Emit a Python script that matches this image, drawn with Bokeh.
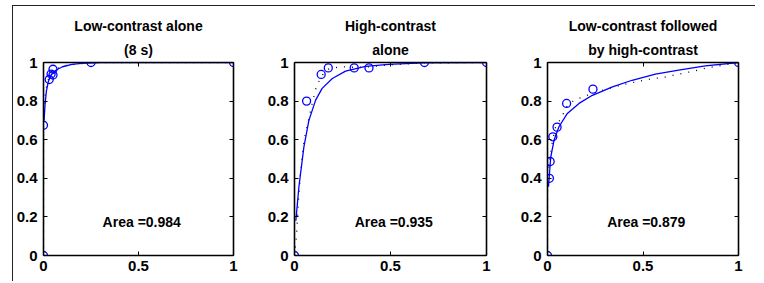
from bokeh.plotting import figure
from bokeh.layouts import row
from bokeh.models import LinearAxis, FixedTicker, Title
from bokeh.core.properties import value
from bokeh.embed import file_html
from bokeh.resources import INLINE

# ---------------- data ----------------
title_line1 = ["Low-contrast alone", "High-contrast", "Low-contrast followed"]
title_line2 = ["(8 s)", "alone", "by high-contrast"]
area_labels = ["Area =0.984", "Area =0.935", "Area =0.879"]

x_ticks = [0, 0.5, 1]
x_tick_labels = ["0", "0.5", "1"]
y_ticks = [0, 0.2, 0.4, 0.6, 0.8, 1]
y_tick_labels = ["0", "0.2", "0.4", "0.6", "0.8", "1"]

# panel 1: low-contrast alone
pts1_x = [0, 0, 0.03, 0.04, 0.05, 0.05, 0.25, 1.0]
pts1_y = [0, 0.675, 0.912, 0.94, 0.935, 0.965, 1.0, 1.0]
fit1_x = [0.003, 0.008, 0.015, 0.025, 0.04, 0.065, 0.1, 0.15, 0.2, 0.3, 1.0]
fit1_y = [0.70, 0.78, 0.85, 0.90, 0.935, 0.96, 0.978, 0.99, 0.996, 1.0, 1.0]
dot1_x = [0, 0, 0.01, 0.03, 0.06, 0.12, 0.25, 1.0]
dot1_y = [0, 0.675, 0.85, 0.93, 0.965, 0.985, 1.0, 1.0]

# panel 2: high-contrast alone
pts2_x = [0, 0.063, 0.139, 0.176, 0.311, 0.388, 0.677, 1.0]
pts2_y = [0, 0.80, 0.938, 0.972, 0.972, 0.972, 1.0, 1.0]
fit2_x = [0.007, 0.023, 0.049, 0.075, 0.11, 0.144, 0.197, 0.266, 0.37, 0.49, 0.67, 1.0]
fit2_y = [0.18, 0.356, 0.563, 0.70, 0.805, 0.866, 0.917, 0.955, 0.98, 0.99, 0.998, 1.0]
dot2_x = [0, 0.01, 0.02, 0.031, 0.05, 0.075, 0.09, 0.113, 0.14, 0.176, 0.24, 0.311, 0.388, 0.5, 0.677, 1.0]
dot2_y = [0, 0.10, 0.28, 0.42, 0.60, 0.71, 0.78, 0.872, 0.93, 0.965, 0.978, 0.975, 0.978, 0.988, 0.998, 1.0]

# panel 3: low-contrast followed by high-contrast
pts3_x = [0, 0.010, 0.014, 0.028, 0.05, 0.10, 0.238, 1.0]
pts3_y = [0, 0.40, 0.487, 0.615, 0.665, 0.788, 0.862, 1.0]
fit3_x = [0.005, 0.017, 0.035, 0.06, 0.104, 0.165, 0.235, 0.34, 0.443, 0.565, 0.687, 0.826, 1.0]
fit3_y = [0.356, 0.51, 0.60, 0.667, 0.736, 0.788, 0.83, 0.874, 0.908, 0.94, 0.96, 0.983, 1.0]
dot3_x = [0, 0, 0.01, 0.02, 0.04, 0.075, 0.1, 0.139, 0.2, 0.3, 0.417, 0.54, 0.6, 0.704, 0.774, 0.835, 1.0]
dot3_y = [0, 0.40, 0.48, 0.56, 0.66, 0.718, 0.77, 0.805, 0.827, 0.86, 0.89, 0.915, 0.922, 0.943, 0.957, 0.972, 1.0]

panels = [
    (pts1_x, pts1_y, fit1_x, fit1_y, dot1_x, dot1_y),
    (pts2_x, pts2_y, fit2_x, fit2_y, dot2_x, dot2_y),
    (pts3_x, pts3_y, fit3_x, fit3_y, dot3_x, dot3_y),
]

FONT = "Liberation Sans"
BLUE = "#0000ff"
H = 275
# (width, left border, right border)
layout_specs = [(248, 28, 28), (253, 33, 28), (241, 33, 17)]


def style_axis(ax, ticks, labels, show_labels, standoff):
    ax.ticker = FixedTicker(ticks=ticks)
    ax.major_label_overrides = {t: l for t, l in zip(ticks, labels)}
    ax.axis_line_color = "black"
    ax.axis_line_width = 1.6
    ax.major_tick_line_color = "black"
    ax.major_tick_line_width = 1
    ax.major_tick_in = 4
    ax.major_tick_out = 0
    ax.minor_tick_line_color = None
    ax.major_label_text_font = FONT
    ax.major_label_text_font_style = "bold"
    if show_labels:
        ax.major_label_text_color = "black"
        ax.major_label_text_font_size = "15px"
        ax.major_label_standoff = standoff
    else:
        ax.major_label_text_color = None
        ax.major_label_text_font_size = "1px"
        ax.major_label_standoff = 0


def make_title(text, standoff):
    return Title(text=text, align="center", text_font=FONT,
                 text_font_size="14px", text_font_style="bold",
                 text_color="black", standoff=standoff)


figs = []
for i, ((px, py, fx, fy, dx, dy), (w, lb, rb)) in enumerate(zip(panels, layout_specs)):
    p = figure(width=w, height=H, x_range=(0, 1), y_range=(0, 1),
               output_backend="svg", toolbar_location=None, title=None,
               min_border_left=lb, min_border_right=rb,
               min_border_top=56, min_border_bottom=26)
    p.outline_line_color = None
    p.grid.visible = False
    p.background_fill_color = "white"
    p.border_fill_color = "white"

    style_axis(p.xaxis[0], x_ticks, x_tick_labels, True, 5)
    style_axis(p.yaxis[0], y_ticks, y_tick_labels, True, 6)
    top_ax = LinearAxis()
    right_ax = LinearAxis()
    style_axis(top_ax, x_ticks, x_tick_labels, False, 0)
    style_axis(right_ax, y_ticks, y_tick_labels, False, 0)
    p.add_layout(top_ax, "above")
    p.add_layout(right_ax, "right")
    p.add_layout(make_title(title_line2[i], 10), "above")
    p.add_layout(make_title(title_line1[i], 2), "above")

    p.line(dx, dy, line_color="black", line_width=1.3, line_dash="1 7")
    p.line(fx, fy, line_color=BLUE, line_width=1.3)
    p.scatter(px, py, marker="circle", size=8, fill_color=None,
              line_color=BLUE, line_width=1.3)
    p.text(x=[0.517], y=[0.171], text=[area_labels[i]],
           text_font=value(FONT), text_font_style="bold",
           text_font_size="14px", text_color="black",
           text_align="center", text_baseline="alphabetic")
    figs.append(p)

# scanned page frame edges (left and top) drawn as the row's border
layout = row(*figs, margin=(5, 0, 0, 12),
             styles={"border-left": "1px solid #222222",
                     "border-top": "1px solid #222222"})
open("out.html", "w").write(file_html(layout, INLINE))
